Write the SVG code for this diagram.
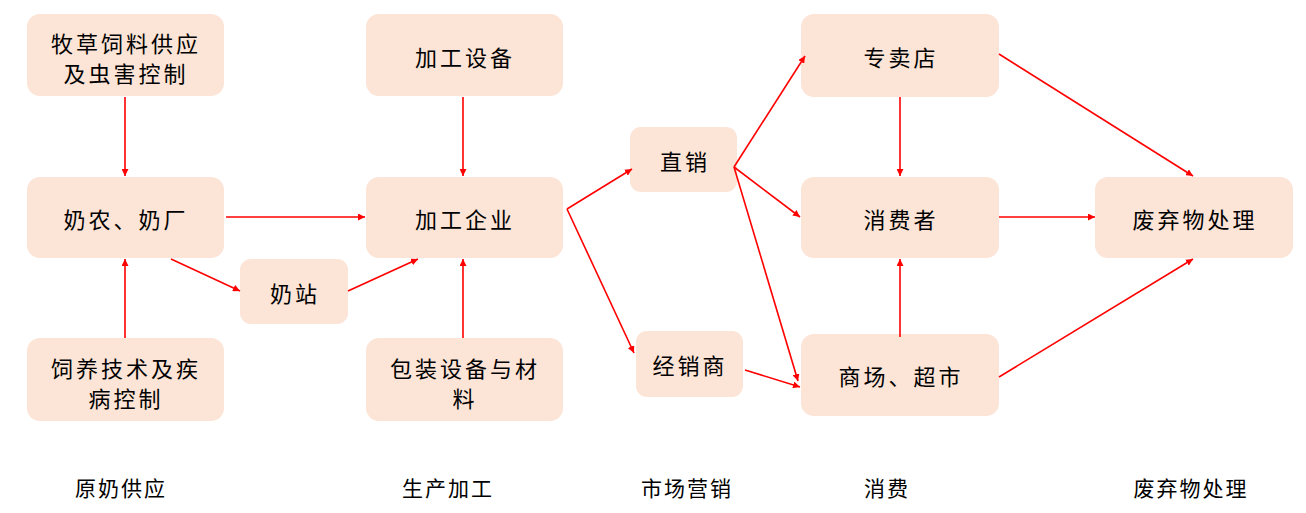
<svg xmlns="http://www.w3.org/2000/svg" width="1306" height="513" viewBox="0 0 1306 513">
<style>
.box{fill:#FCE4D6;}
.t{font-family:"Noto Sans CJK SC","Noto Sans",sans-serif;font-size:22px;fill:#000;text-anchor:middle;dominant-baseline:central;letter-spacing:3px;}
.lbl{font-family:"Noto Sans CJK SC","Noto Sans",sans-serif;font-size:21px;fill:#000;text-anchor:middle;dominant-baseline:central;letter-spacing:2px;}
.c{stroke:#FF0000;stroke-width:1.6;fill:none;marker-end:url(#ah);}
</style>
<defs>
<marker id="ah" viewBox="0 0 10 10" refX="10" refY="5" markerWidth="7" markerHeight="7" markerUnits="userSpaceOnUse" orient="auto">
<path d="M0,0 L10,5 L0,10 z" fill="#FF0000"/>
</marker>
</defs>
<rect width="1306" height="513" fill="#fff"/>
<g id="n1"><rect class="box" x="27" y="14" width="197" height="82" rx="13"/><text class="t" x="126" y="42">牧草饲料供应</text><text class="t" x="126" y="72">及虫害控制</text></g>
<g id="n2"><rect class="box" x="27" y="177" width="197" height="81" rx="13"/><text class="t" x="126" y="218">奶农、奶厂</text></g>
<g id="n3"><rect class="box" x="27" y="338" width="197" height="83" rx="13"/><text class="t" x="126" y="367">饲养技术及疾</text><text class="t" x="126" y="397">病控制</text></g>
<g id="n4"><rect class="box" x="240" y="259" width="108" height="65" rx="11"/><text class="t" x="295" y="292">奶站</text></g>
<g id="n5"><rect class="box" x="366" y="14" width="197" height="82" rx="13"/><text class="t" x="465" y="56">加工设备</text></g>
<g id="n6"><rect class="box" x="366" y="177" width="197" height="81" rx="13"/><text class="t" x="465" y="218">加工企业</text></g>
<g id="n7"><rect class="box" x="366" y="338" width="197" height="83" rx="13"/><text class="t" x="465" y="367">包装设备与材</text><text class="t" x="465" y="397">料</text></g>
<g id="n8"><rect class="box" x="630" y="127" width="107" height="65" rx="11"/><text class="t" x="685" y="160">直销</text></g>
<g id="n9"><rect class="box" x="636" y="331" width="107" height="66" rx="11"/><text class="t" x="690" y="364">经销商</text></g>
<g id="n10"><rect class="box" x="801" y="14" width="198" height="83" rx="13"/><text class="t" x="901" y="56">专卖店</text></g>
<g id="n11"><rect class="box" x="801" y="177" width="198" height="81" rx="13"/><text class="t" x="901" y="218">消费者</text></g>
<g id="n12"><rect class="box" x="801" y="334" width="198" height="82" rx="13"/><text class="t" x="901" y="375">商场、超市</text></g>
<g id="n13"><rect class="box" x="1095" y="177" width="198" height="81" rx="13"/><text class="t" x="1195" y="218">废弃物处理</text></g>
<g id="connectors">
<line class="c" x1="125" y1="97" x2="125" y2="176"/>
<line class="c" x1="125" y1="338" x2="125" y2="259"/>
<line class="c" x1="226" y1="217" x2="365" y2="217"/>
<line class="c" x1="171" y1="259" x2="240" y2="291"/>
<line class="c" x1="348" y1="291" x2="418" y2="259"/>
<line class="c" x1="463" y1="97" x2="463" y2="176"/>
<line class="c" x1="463" y1="338" x2="463" y2="259"/>
<line class="c" x1="567" y1="209" x2="632" y2="169"/>
<line class="c" x1="567" y1="209" x2="634" y2="353"/>
<line class="c" x1="734" y1="167" x2="805" y2="56"/>
<line class="c" x1="734" y1="167" x2="800" y2="217"/>
<line class="c" x1="734" y1="167" x2="798" y2="381"/>
<line class="c" x1="745" y1="370" x2="800" y2="387"/>
<line class="c" x1="900" y1="97" x2="900" y2="176"/>
<line class="c" x1="900" y1="337" x2="900" y2="259"/>
<line class="c" x1="999" y1="217" x2="1095" y2="217"/>
<line class="c" x1="999" y1="54" x2="1193" y2="176"/>
<line class="c" x1="999" y1="377" x2="1193" y2="259"/>
</g>
<g id="labels">
<text class="lbl" x="121" y="487">原奶供应</text>
<text class="lbl" x="448" y="487">生产加工</text>
<text class="lbl" x="687" y="487">市场营销</text>
<text class="lbl" x="887" y="487">消费</text>
<text class="lbl" x="1191" y="487">废弃物处理</text>
</g>
</svg>
